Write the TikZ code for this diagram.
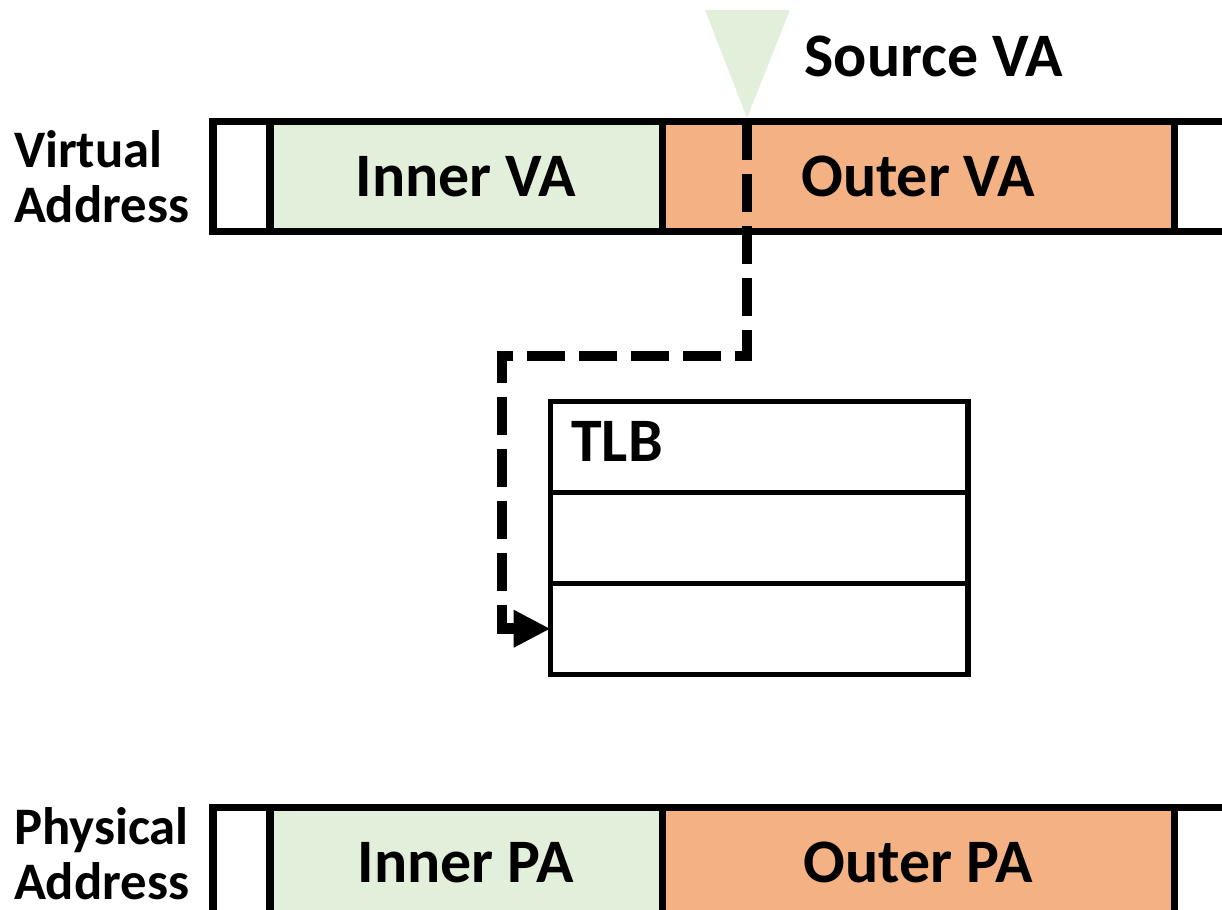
\documentclass[tikz,border=0pt]{standalone}
\usepackage{fontspec}
\setmainfont{Carlito}
\usepackage{xcolor}
\usetikzlibrary{arrows.meta, positioning}

\definecolor{innergreen}{HTML}{E2EFDA}
\definecolor{outerorange}{HTML}{F4B183}

\begin{document}
\begin{tikzpicture}[
    node distance=0pt,
    >={Triangle[length=10.5pt, width=10pt]},
    every node/.style={font=\bfseries}
]
    % Define styles
    \tikzstyle{field} = [rectangle, draw=black, line width=2pt, outer sep=0pt, inner sep=0pt, minimum height=1.10cm]
    \tikzstyle{pad} = [field, fill=white, minimum width=0.57cm]
    \tikzstyle{inner} = [field, fill=innergreen, minimum width=3.92cm, font=\fontsize{17.6}{18}\selectfont\bfseries]
    \tikzstyle{outer} = [field, fill=outerorange, minimum width=5.12cm, font=\fontsize{17.6}{18}\selectfont\bfseries]
    \tikzstyle{entry} = [rectangle, draw=black, line width=1.5pt, outer sep=0pt, minimum width=4.175cm, minimum height=0.91cm]
    \tikzstyle{sidetext} = [inner sep=0pt, align=left, font=\fontsize{15}{15.8}\selectfont\bfseries]
    \tikzstyle{bigtext} = [inner sep=0pt, font=\fontsize{17.6}{18}\selectfont\bfseries]
    \tikzstyle{lookup} = [line width=3pt, dash pattern=on 11pt off 3.8pt, ->]

    % Page area
    \clip (0,0) rectangle (12.22,-9.10);

    % Virtual address bar
    \node [pad] (vaLow) at (2.415,-1.765) {};
    \node [inner, right=of vaLow] (vaInner) {Inner VA};
    \node [outer, right=of vaInner] (vaOuter) {Outer VA};
    \node [pad, minimum width=1.5cm, right=of vaOuter] (vaHigh) {};
    \node [sidetext, left=0.23cm of vaLow] (vaName) {Virtual\\Address};

    % Physical address bar
    \node [pad, below=5.76cm of vaLow] (paLow) {};
    \node [inner, right=of paLow] (paInner) {Inner PA};
    \node [outer, right=of paInner] (paOuter) {Outer PA};
    \node [pad, minimum width=1.5cm, right=of paOuter] (paHigh) {};
    \node [sidetext, left=0.23cm of paLow, yshift=0.09cm] (paName) {Physical\\Address};

    % TLB with three entries
    \node [entry] (tlbA) at (7.5925,-4.4675) {};
    \node [entry, below=of tlbA] (tlbB) {};
    \node [entry, below=of tlbB] (tlbC) {};
    \node [bigtext, right=0.2cm of tlbA.west, yshift=0.05cm] (tlbName) {TLB};

    % Source VA marker
    \coordinate (srcTip) at (7.47,-1.18);
    \fill [innergreen] (7.05,-0.10) -- (7.90,-0.10) -- (srcTip) -- cycle;
    \node [bigtext, anchor=west] (srcName) at (8.04,-0.56) {Source VA};

    % Lookup path into the TLB
    \coordinate (bend) at (5.02,-3.56);
    \draw [lookup] (srcTip |- vaOuter.north) |- (bend) |- (tlbC.west);

\end{tikzpicture}
\end{document}
